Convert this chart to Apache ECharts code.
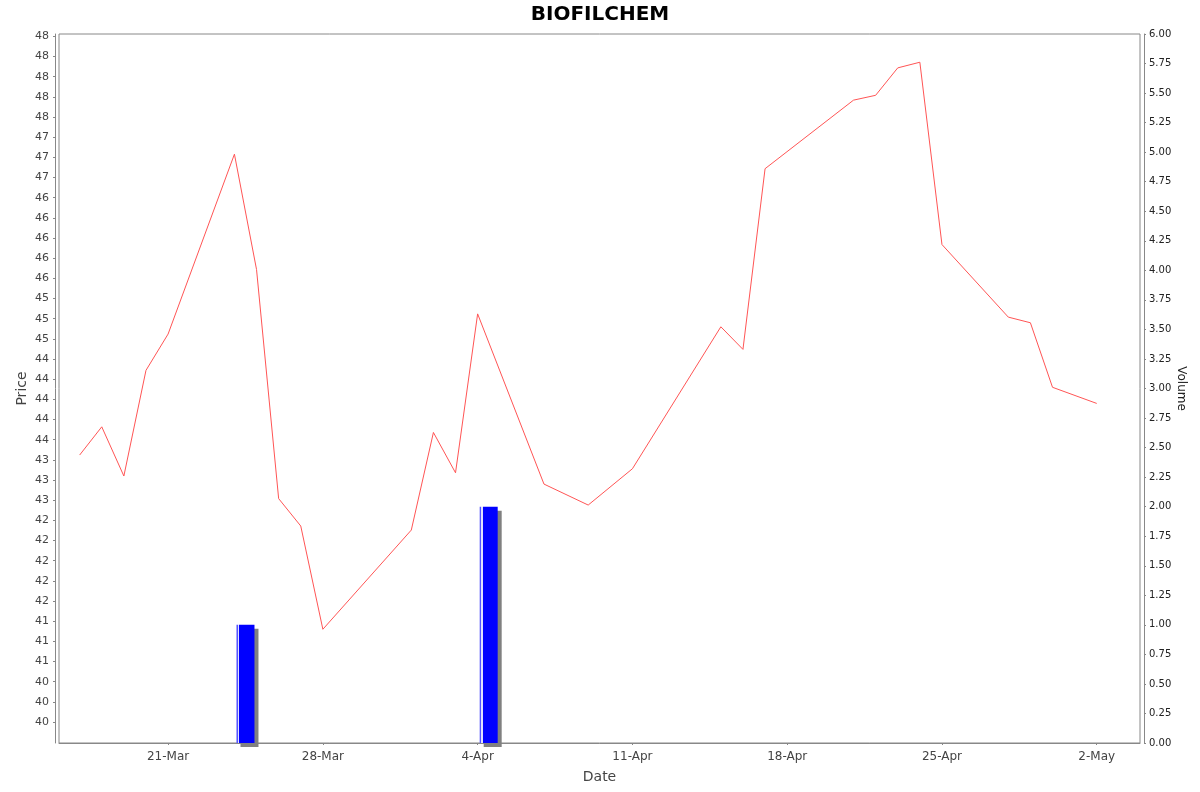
<!DOCTYPE html>
<html>
<head>
<meta charset="utf-8">
<script src="https://cdn.jsdelivr.net/npm/echarts@6/dist/echarts.min.js"></script>
<style>
  html, body { margin: 0; padding: 0; background: #ffffff; }
  #chart { width: 1200px; height: 792px; }
</style>
</head>
<body>
<div id="chart"></div>
<script>
// ---- data ----
const dates = ['2025-03-17','2025-03-18','2025-03-19','2025-03-20','2025-03-21',
  '2025-03-24','2025-03-25','2025-03-26','2025-03-27','2025-03-28',
  '2025-04-01','2025-04-02','2025-04-03','2025-04-04','2025-04-07',
  '2025-04-09','2025-04-11','2025-04-15','2025-04-16','2025-04-17',
  '2025-04-21','2025-04-22','2025-04-23','2025-04-24','2025-04-25',
  '2025-04-28','2025-04-29','2025-04-30','2025-05-02'];
const prices = [43.31,43.66,43.05,44.36,44.81,
  47.04,45.61,42.77,42.43,41.15,
  42.38,43.59,43.09,45.06,42.95,
  42.69,43.14,44.90,44.62,46.86,
  47.71,47.77,48.11,48.18,45.92,
  45.02,44.95,44.15,43.95];
const volumes = [0,0,0,0,0,
  1.00,0,0,0,0,
  0,0,0,2.00,0,
  0,0,0,0,0,
  0,0,0,0,0,
  0,0,0,0];
const xTickDates = ['2025-03-21','2025-03-28','2025-04-04','2025-04-11','2025-04-18','2025-04-25','2025-05-02'];
const xTickLabels = ['21-Mar','28-Mar','4-Apr','11-Apr','18-Apr','25-Apr','2-May'];
const priceTickValues = [40,40.25,40.5,40.75,41,41.25,41.5,41.75,42,42.25,42.5,42.75,43,43.25,43.5,43.75,44,44.25,44.5,44.75,45,45.25,45.5,45.75,46,46.25,46.5,46.75,47,47.25,47.5,47.75,48,48.25,48.5];
const priceTickLabels = ['40','40','40','41','41','41','42','42','42','42','42','43','43','43','44','44','44','44','44','45','45','45','46','46','46','46','46','47','47','47','48','48','48','48','48'];

// ---- helpers ----
const DAY = 86400000;
function ts(s) { const p = s.split('-').map(Number); return new Date(p[0], p[1] - 1, p[2]).getTime(); }
const xTickTs = xTickDates.map(ts);
const ref = ts('2025-03-21');
const xMin = ref - 4.934 * DAY;
const xMax = ref + 43.957 * DAY;

const lineData = dates.map((d, i) => [ts(d), prices[i]]);
const barData = [];
dates.forEach((d, i) => { if (volumes[i] > 0) barData.push([ts(d) + DAY / 2, volumes[i]]); });

const FONT = 'DejaVu Sans';
const AX = '#888888';
const TXT = '#444444';

const chart = echarts.init(document.getElementById('chart'), null, { renderer: 'canvas' });
chart.setOption({
  animation: false,
  backgroundColor: '#ffffff',
  title: {
    text: 'BIOFILCHEM', left: 'center', top: 0,
    textStyle: { fontFamily: FONT, fontSize: 20, fontWeight: 'bold', color: '#000000' }
  },
  grid: {
    left: 59, top: 34, width: 1081, height: 709,
    show: true, borderColor: AX, borderWidth: 1, backgroundColor: '#ffffff'
  },
  xAxis: {
    type: 'value', min: xMin, max: xMax, offset: 4,
    name: 'Date', nameLocation: 'middle', nameGap: 23, nameMoveOverlap: false,
    nameTextStyle: { fontFamily: FONT, fontSize: 14, color: TXT },
    axisLine: { show: true, lineStyle: { color: AX, width: 1 } },
    axisTick: { show: true, length: 2, lineStyle: { color: AX }, customValues: xTickTs },
    axisLabel: {
      customValues: xTickTs, margin: 4, fontFamily: FONT, fontSize: 12, color: TXT,
      formatter: function (v) {
        for (let i = 0; i < xTickTs.length; i++) if (Math.abs(xTickTs[i] - v) < 3600000) return xTickLabels[i];
        return '';
      }
    },
    splitLine: { show: false }
  },
  yAxis: [
    {
      type: 'value', position: 'left', min: 39.74, max: 48.53, offset: 4,
      name: 'Price', nameLocation: 'middle', nameGap: 26, nameMoveOverlap: false,
      nameTextStyle: { fontFamily: FONT, fontSize: 14, color: TXT },
      axisLine: { show: true, lineStyle: { color: AX, width: 1 } },
      axisTick: { show: true, length: 2, lineStyle: { color: AX }, customValues: priceTickValues },
      axisLabel: {
        customValues: priceTickValues, margin: 6, fontFamily: FONT, fontSize: 11, color: TXT,
        formatter: function (v) {
          for (let i = 0; i < priceTickValues.length; i++) if (Math.abs(priceTickValues[i] - v) < 1e-6) return priceTickLabels[i];
          return '';
        }
      },
      splitLine: { show: false }
    },
    {
      type: 'value', position: 'right', min: 0, max: 6, interval: 0.25, offset: 4,
      name: 'Volume', nameLocation: 'middle', nameGap: 31, nameRotate: -90, nameMoveOverlap: false,
      nameTextStyle: { fontFamily: FONT, fontSize: 12, color: '#222222' },
      axisLine: { show: true, lineStyle: { color: AX, width: 1 } },
      axisTick: { show: true, length: 2, lineStyle: { color: AX } },
      axisLabel: {
        margin: 5, fontFamily: FONT, fontSize: 10, color: '#222222',
        formatter: function (v) { return v.toFixed(2); }
      },
      splitLine: { show: false }
    }
  ],
  series: [
    {
      name: 'Volume', type: 'bar', yAxisIndex: 1, data: barData, barWidth: 18,
      itemStyle: {
        color: new echarts.graphic.LinearGradient(0, 0, 1, 0, [
          { offset: 0, color: '#5555ff' }, { offset: 0.07, color: '#5555ff' },
          { offset: 0.07, color: '#e0e0ff' }, { offset: 0.16, color: '#e0e0ff' },
          { offset: 0.16, color: '#0000ff' }, { offset: 1, color: '#0000ff' }
        ]),
        shadowColor: '#808080', shadowBlur: 0, shadowOffsetX: 4, shadowOffsetY: 4
      }
    },
    {
      name: 'Price', type: 'line', yAxisIndex: 0, data: lineData,
      showSymbol: false, symbol: 'none',
      lineStyle: { color: '#ff5555', width: 1 }
    }
  ]
});
</script>
</body>
</html>
